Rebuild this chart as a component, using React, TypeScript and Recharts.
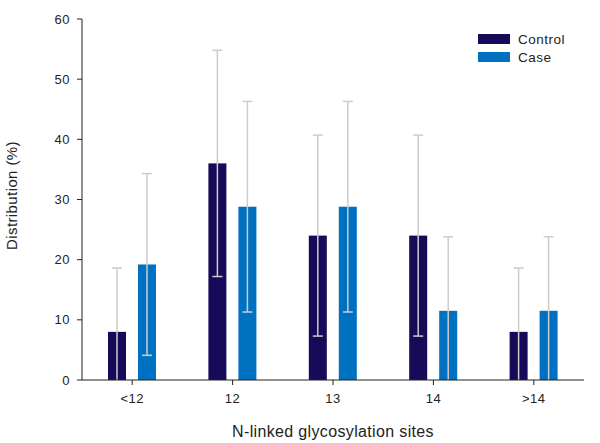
import { BarChart, Bar, XAxis, YAxis } from "recharts";

const sites = ["<12", "12", "13", "14", ">14"];
const seriesNames = ["Control", "Case"];
const seriesColors = ["#160b58", "#0070c0"];
const control = [8, 36, 24, 24, 8];
const controlErr = [10.6, 18.8, 16.7, 16.7, 10.6];
const caseVals = [19.2, 28.8, 28.8, 11.5, 11.5];
const caseErr = [15.1, 17.5, 17.5, 12.3, 12.3];
const yTicks = [0, 10, 20, 30, 40, 50, 60];

const data = sites.map((s, i) => ({
    site: s,
    control: control[i],
    controlErr: controlErr[i],
    case: caseVals[i],
    caseErr: caseErr[i],
}));

const font = "'Liberation Sans', Arial, sans-serif";
const errColor = "#cccccc";

// bar + symmetric error bar; px per unit taken from the bar the library laid out
function barWithError(errKey: string) {
    return (props: any) => {
        const { x, y, width, height, fill, payload, value } = props;
        const v = Array.isArray(value) ? value[1] - value[0] : value;
        const k = v ? height / v : 0;
        const err = payload[errKey] * k;
        const cx = x + width / 2;
        const base = y + height;
        const top = y - err;
        const bottom = Math.min(y + err, base);
        return (
            <g>
                <rect x={x} y={y} width={width} height={height} fill={fill} />
                <line x1={cx} x2={cx} y1={top} y2={bottom} stroke={errColor} strokeWidth={1.5} />
                <line x1={cx - 5} x2={cx + 5} y1={top} y2={top} stroke={errColor} strokeWidth={1.5} />
                {y + err < base && (
                    <line x1={cx - 5} x2={cx + 5} y1={y + err} y2={y + err} stroke={errColor} strokeWidth={1.5} />
                )}
            </g>
        );
    };
}

export default function App() {
    return (
        <div style={{ position: "absolute", left: 0, top: 0, width: 600, height: 443, background: "#fff" }}>
            <BarChart
                width={600}
                height={443}
                data={data}
                margin={{ top: 19, right: 16, bottom: 33, left: 22 }}
                barSize={18}
                barGap={12}
                style={{ fontFamily: font }}
            >
                <XAxis
                    dataKey="site"
                    axisLine={{ stroke: "#222" }}
                    tickLine={{ stroke: "#222" }}
                    tickSize={5}
                    tickMargin={9}
                    tick={{ fill: "#222", fontSize: 13, letterSpacing: 0.5 }}
                    height={30}
                    label={{ value: "N-linked glycosylation sites", position: "insideBottom", offset: -27, fill: "#222", fontSize: 16, letterSpacing: 0.35 }}
                />
                <YAxis
                    domain={[0, 60]}
                    ticks={yTicks}
                    axisLine={{ stroke: "#222" }}
                    tickLine={{ stroke: "#222" }}
                    tickSize={5}
                    tickMargin={7}
                    tick={{ fill: "#222", fontSize: 13, letterSpacing: 0.5 }}
                    width={60}
                    label={{ value: "Distribution (%)", angle: -90, position: "insideLeft", offset: -10, dy: -4, fill: "#222", fontSize: 15, letterSpacing: 0.4, style: { textAnchor: "middle" } }}
                />
                <Bar dataKey="control" name={seriesNames[0]} fill={seriesColors[0]} isAnimationActive={false} shape={barWithError("controlErr")} />
                <Bar dataKey="case" name={seriesNames[1]} fill={seriesColors[1]} isAnimationActive={false} shape={barWithError("caseErr")} />
            </BarChart>
            <div style={{ position: "absolute", left: 478, top: 30, fontFamily: font, fontSize: 13.5, letterSpacing: 0.5, color: "#222" }}>
                {seriesNames.map((n, i) => (
                    <div key={n} style={{ display: "flex", alignItems: "center", height: 18 }}>
                        <span style={{ display: "inline-block", width: 32, height: 10, background: seriesColors[i], marginRight: 8 }} />
                        <span>{n}</span>
                    </div>
                ))}
            </div>
        </div>
    );
}
